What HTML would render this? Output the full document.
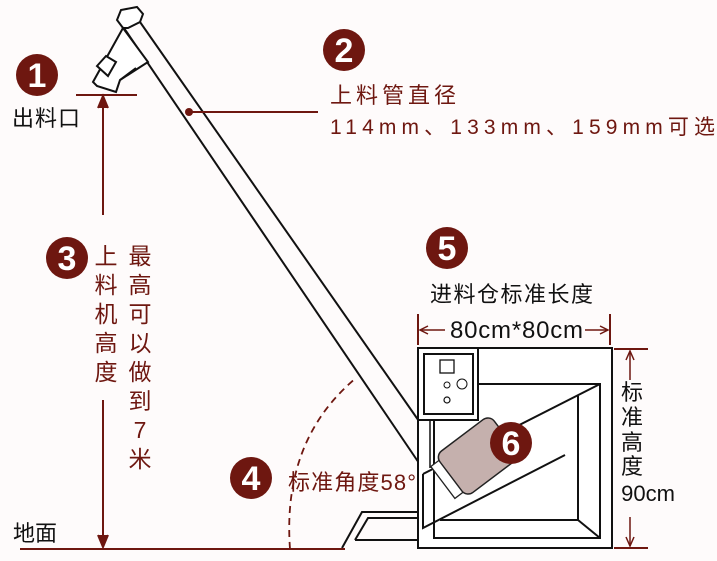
<!DOCTYPE html>
<html><head><meta charset="utf-8"><style>
html,body{margin:0;padding:0;background:#fff;}
svg{display:block;}
text{font-family:"Liberation Sans","Noto Sans CJK SC",sans-serif;}
</style></head><body>
<svg width="717" height="561" viewBox="0 0 717 561" xmlns="http://www.w3.org/2000/svg">
<rect width="717" height="561" fill="#fefbfb"/>
<g fill="none" stroke="#111" stroke-width="2">
 <line x1="124" y1="28" x2="421" y2="466"/>
 <line x1="140" y1="22" x2="421" y2="424"/>
 <path d="M117,20 L121,10 L137,7 L143,14 L140,22 L128,28 L123,28 Z" fill="#fff"/>
 <path d="M123,28 L148,62 L120,80 L116,92 L97,86 L93,82 Z" fill="#fff"/>
 <path d="M97,66 L106,56 L116,62 L108,76 Z" fill="#fff"/>
 <path d="M120,80 L136,68"/>
 <rect x="418" y="348" width="194" height="200" fill="#fff"/>
 <rect x="418" y="348" width="60" height="72" fill="#fff"/>
 <rect x="424" y="354" width="49" height="60"/>
 <rect x="440" y="360" width="14" height="13" stroke-width="1.3"/>
 <circle cx="447" cy="385" r="3" stroke-width="1"/>
 <circle cx="462" cy="384" r="5" stroke-width="1"/>
 <circle cx="447" cy="400" r="3" stroke-width="1.2"/>
 <path d="M478,384 L600,384 L600,538 L434,538 L434,420"/>
 <path d="M600,384 L423,474"/>
 <path d="M423,474 L423,528 L565,455"/>
 <path d="M578,396 L578,520 L440,520 M578,520 L600,538"/>
 <line x1="430" y1="420" x2="430" y2="468" stroke-width="1.5"/>
 <g transform="translate(478,456) rotate(-37)">
  <rect x="-34" y="-26" width="68" height="52" rx="8" fill="#c5b0ad" stroke="#222" stroke-width="1.5"/>
  <rect x="34" y="-5" width="10" height="10" fill="#c5b0ad" stroke="#222" stroke-width="1.3"/>
  <rect x="-44" y="-20" width="10" height="40" fill="#fff" stroke="#222" stroke-width="1.3"/>
 </g>
 <path d="M342,548 L362,512 L418,512"/>
 <path d="M355,540 L368,518 L418,518 M355,540 L418,540"/>
</g>
<g stroke="#6e1710" stroke-width="2" fill="none">
 <line x1="76" y1="95" x2="137" y2="95"/>
 <line x1="103" y1="100" x2="103" y2="215"/>
 <path d="M98,108 L103,96 L108,108" fill="#6e1710"/>
 <line x1="103" y1="400" x2="103" y2="545"/>
 <path d="M98,535 L103,547 L108,535" fill="#6e1710"/>
 <line x1="20" y1="549" x2="345" y2="549"/>
 <line x1="190" y1="112" x2="318" y2="112"/>
 <path d="M290,549 Q282,440 356,378" stroke-dasharray="7,5" stroke-width="1.8"/>
 <line x1="418" y1="314" x2="418" y2="345"/>
 <line x1="610" y1="314" x2="610" y2="345"/>
 <line x1="421" y1="330" x2="445" y2="330" stroke-width="1.5"/>
 <line x1="585" y1="330" x2="607" y2="330" stroke-width="1.5"/>
 <path d="M428,326 L420,330 L428,334" stroke-width="1.5"/>
 <path d="M600,326 L608,330 L600,334" stroke-width="1.5"/>
 <line x1="614" y1="349" x2="648" y2="349"/>
 <line x1="614" y1="548" x2="648" y2="548"/>
 <line x1="630" y1="352" x2="630" y2="380" stroke-width="1.5"/>
 <line x1="630" y1="517" x2="630" y2="546" stroke-width="1.5"/>
 <path d="M626,360 L630,351 L634,360" stroke-width="1.5"/>
 <path d="M626,537 L630,546 L634,537" stroke-width="1.5"/>
</g>
<circle cx="189" cy="112" r="4" fill="#6e1710"/>
<g fill="#6e1710">
 <circle cx="37" cy="75" r="21"/>
 <circle cx="344" cy="50" r="21"/>
 <circle cx="67" cy="258" r="21"/>
 <circle cx="251" cy="478" r="21"/>
 <circle cx="447" cy="248" r="21"/>
 <circle cx="511" cy="443" r="21"/>
</g>
<g fill="#fff" font-weight="bold" font-size="34" text-anchor="middle">
 <text x="37" y="87">1</text>
 <text x="344" y="62">2</text>
 <text x="67" y="270">3</text>
 <text x="251" y="490">4</text>
 <text x="447" y="260">5</text>
 <text x="511" y="455">6</text>
</g>
<g font-size="22" fill="#111">
 <text x="12" y="126" textLength="68">出料口</text>
 <text x="13" y="541">地面</text>
 <text x="430" y="302" font-size="22" textLength="163">进料仓标准长度</text>
 <text x="450" y="338" font-size="24" textLength="133">80cm*80cm</text>
</g>
<g fill="#111" font-size="22" text-anchor="middle">
 <text x="632" y="400">标</text>
 <text x="632" y="425">准</text>
 <text x="632" y="450">高</text>
 <text x="632" y="474">度</text>
 <text x="648" y="501">90cm</text>
</g>
<g fill="#6e1710" font-size="22">
 <text x="330" y="103" textLength="126">上料管直径</text>
 <text x="330" y="134" font-size="21" textLength="385">114mm、133mm、159mm可选</text>
 <text x="288" y="490" font-size="22" textLength="128">标准角度58°</text>
</g>
<g fill="#6e1710" font-size="23" text-anchor="middle">
 <text x="106" y="264">上</text>
 <text x="106" y="293">料</text>
 <text x="106" y="322">机</text>
 <text x="106" y="351">高</text>
 <text x="106" y="380">度</text>
 <text x="140" y="264">最</text>
 <text x="140" y="293">高</text>
 <text x="140" y="322">可</text>
 <text x="140" y="351">以</text>
 <text x="140" y="380">做</text>
 <text x="140" y="409">到</text>
 <text x="140" y="438">7</text>
 <text x="140" y="467">米</text>
</g>
</svg>
</body></html>
